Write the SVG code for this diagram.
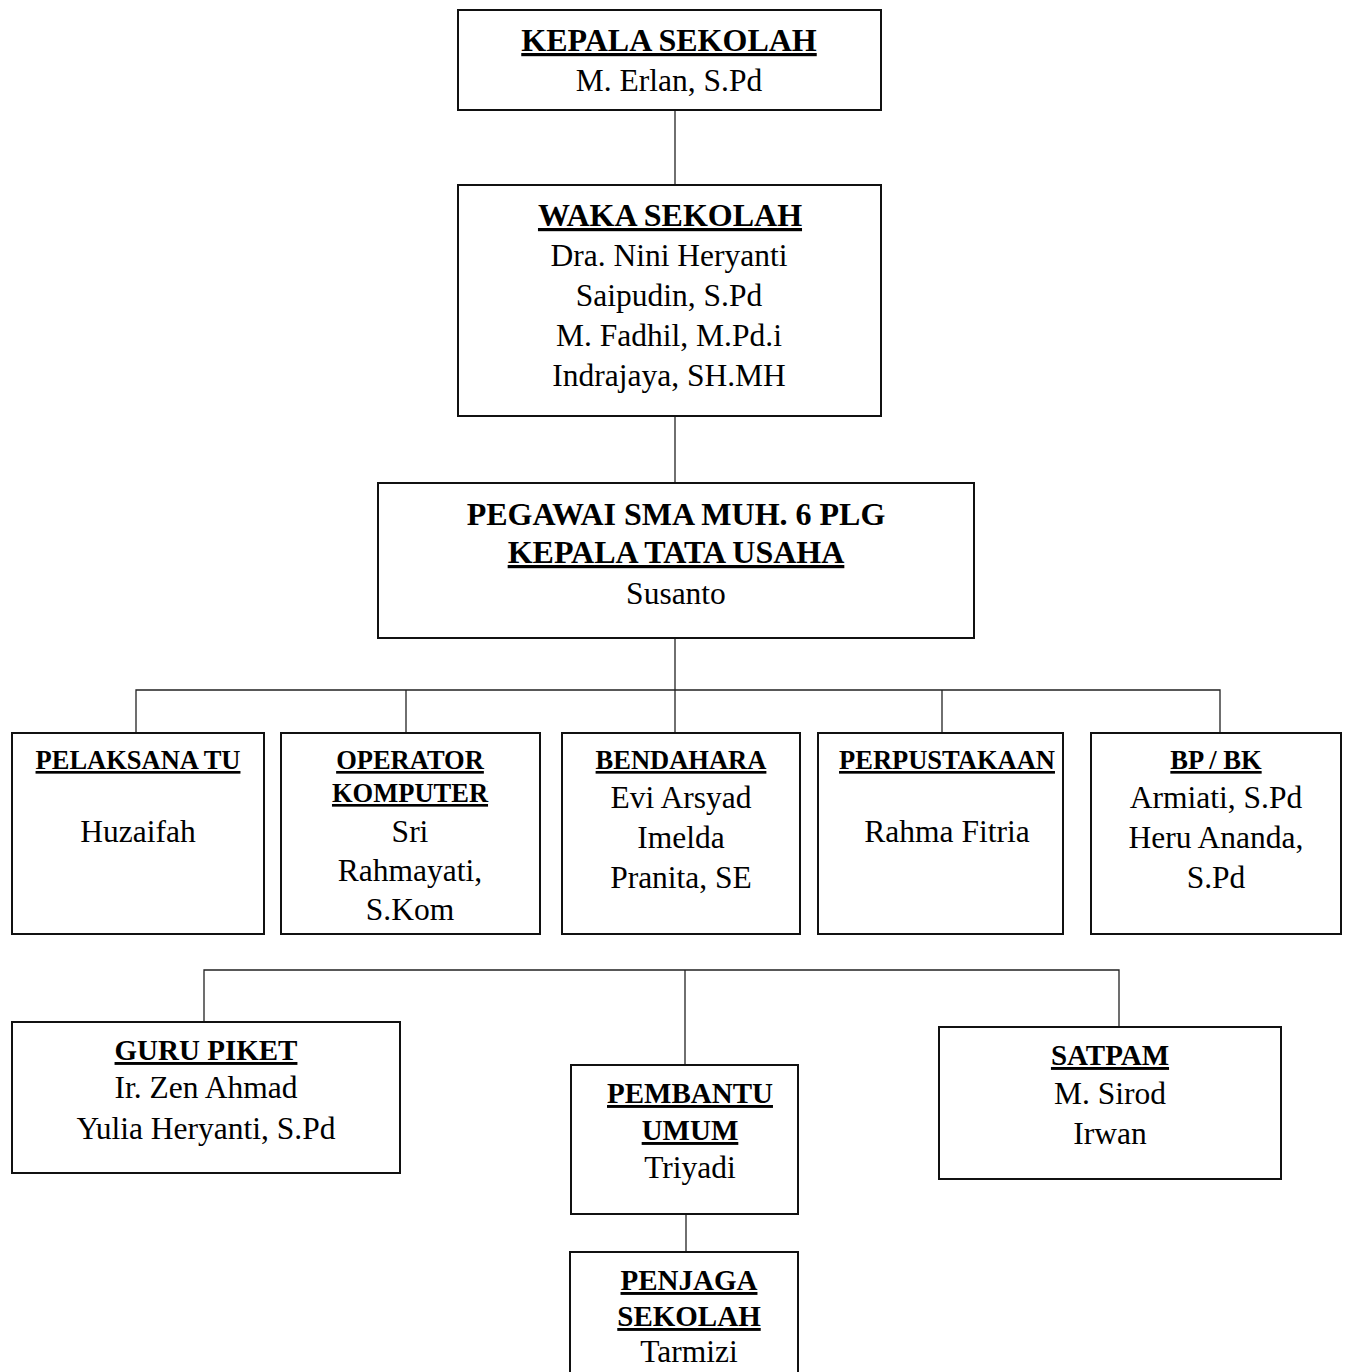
<svg xmlns="http://www.w3.org/2000/svg" width="1348" height="1372" viewBox="0 0 1348 1372">
<style>
.box{fill:#fff;stroke:#111;stroke-width:2}
.con{fill:none;stroke:#222;stroke-width:1.3}
text{font-family:"Liberation Serif","Times New Roman",serif;fill:#000;text-anchor:middle}
.t{font-weight:bold;font-size:32px;text-decoration:underline}
.tb{font-weight:bold;font-size:32px}
.t1{font-weight:bold;font-size:26.5px;text-decoration:underline}
.t2{font-weight:bold;font-size:29px;text-decoration:underline}
.n{font-size:31.5px}
</style>
<rect width="1348" height="1372" fill="#fff"/>
<g id="connectors">
<line class="con" x1="675" y1="110" x2="675" y2="185"/>
<line class="con" x1="675" y1="416" x2="675" y2="483"/>
<line class="con" x1="675" y1="638" x2="675" y2="733"/>
<polyline class="con" points="136,733 136,690 1220,690 1220,733"/>
<line class="con" x1="406" y1="690" x2="406" y2="733"/>
<line class="con" x1="942" y1="690" x2="942" y2="733"/>
<polyline class="con" points="204,1021 204,970 1119,970 1119,1026"/>
<line class="con" x1="685" y1="970" x2="685" y2="1065"/>
<line class="con" x1="686" y1="1214" x2="686" y2="1252"/>
</g>
<g id="kepala-sekolah">
<rect class="box" x="458" y="10" width="423" height="100"/>
<text class="t" x="669" y="51">KEPALA SEKOLAH</text>
<text class="n" x="669" y="91">M. Erlan, S.Pd</text>
</g>
<g id="waka-sekolah">
<rect class="box" x="458" y="185" width="423" height="231"/>
<text class="t" x="670" y="226">WAKA SEKOLAH</text>
<text class="n" x="669" y="266">Dra. Nini Heryanti</text>
<text class="n" x="669" y="306">Saipudin, S.Pd</text>
<text class="n" x="669" y="346">M. Fadhil, M.Pd.i</text>
<text class="n" x="669" y="386">Indrajaya, SH.MH</text>
</g>
<g id="kepala-tata-usaha">
<rect class="box" x="378" y="483" width="596" height="155"/>
<text class="tb" x="676" y="525">PEGAWAI SMA MUH. 6 PLG</text>
<text class="t" x="676" y="563">KEPALA TATA USAHA</text>
<text class="n" x="676" y="604">Susanto</text>
</g>
<g id="pelaksana-tu">
<rect class="box" x="12" y="733" width="252" height="201"/>
<text class="t1" x="138" y="769">PELAKSANA TU</text>
<text class="n" x="138" y="842">Huzaifah</text>
</g>
<g id="operator-komputer">
<rect class="box" x="281" y="733" width="259" height="201"/>
<text class="t1" x="410" y="769">OPERATOR</text>
<text class="t1" x="410" y="802">KOMPUTER</text>
<text class="n" x="410" y="842">Sri</text>
<text class="n" x="410" y="881">Rahmayati,</text>
<text class="n" x="410" y="920">S.Kom</text>
</g>
<g id="bendahara">
<rect class="box" x="562" y="733" width="238" height="201"/>
<text class="t1" x="681" y="769">BENDAHARA</text>
<text class="n" x="681" y="808">Evi Arsyad</text>
<text class="n" x="681" y="848">Imelda</text>
<text class="n" x="681" y="888">Pranita, SE</text>
</g>
<g id="perpustakaan">
<rect class="box" x="818" y="733" width="245" height="201"/>
<text class="t1" x="947" y="769">PERPUSTAKAAN</text>
<text class="n" x="947" y="842">Rahma Fitria</text>
</g>
<g id="bp-bk">
<rect class="box" x="1091" y="733" width="250" height="201"/>
<text class="t1" x="1216" y="769">BP / BK</text>
<text class="n" x="1216" y="808">Armiati, S.Pd</text>
<text class="n" x="1216" y="848">Heru Ananda,</text>
<text class="n" x="1216" y="888">S.Pd</text>
</g>
<g id="guru-piket">
<rect class="box" x="12" y="1022" width="388" height="151"/>
<text class="t2" x="206" y="1060">GURU PIKET</text>
<text class="n" x="206" y="1098">Ir. Zen Ahmad</text>
<text class="n" x="206" y="1139">Yulia Heryanti, S.Pd</text>
</g>
<g id="pembantu-umum">
<rect class="box" x="571" y="1065" width="227" height="149"/>
<text class="t2" x="690" y="1103">PEMBANTU</text>
<text class="t2" x="690" y="1140">UMUM</text>
<text class="n" x="690" y="1178">Triyadi</text>
</g>
<g id="penjaga-sekolah">
<rect class="box" x="570" y="1252" width="228" height="140"/>
<text class="t2" x="689" y="1290">PENJAGA</text>
<text class="t2" x="689" y="1326">SEKOLAH</text>
<text class="n" x="689" y="1362">Tarmizi</text>
</g>
<g id="satpam">
<rect class="box" x="939" y="1027" width="342" height="152"/>
<text class="t2" x="1110" y="1065">SATPAM</text>
<text class="n" x="1110" y="1104">M. Sirod</text>
<text class="n" x="1110" y="1144">Irwan</text>
</g>
</svg>
